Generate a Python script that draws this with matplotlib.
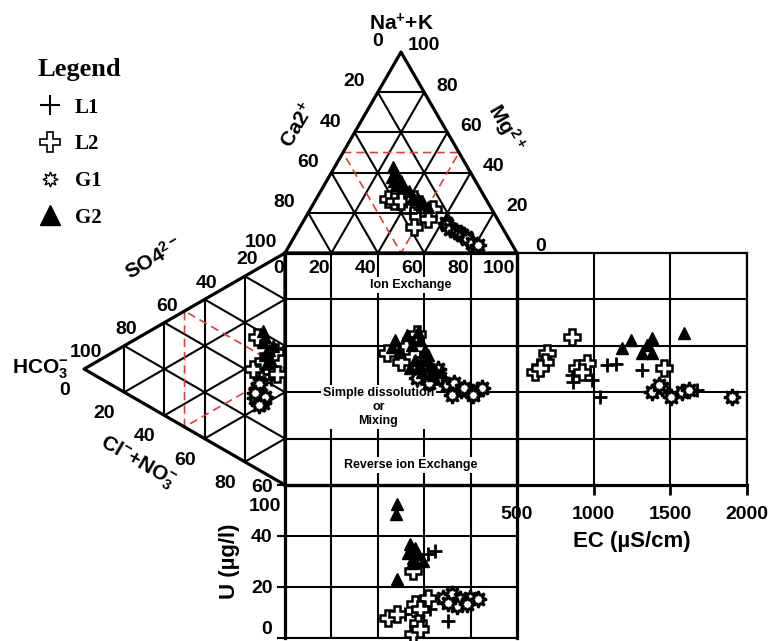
import matplotlib
matplotlib.use('Agg')
import matplotlib.pyplot as plt
from matplotlib.lines import Line2D
import numpy as np

plt.rcParams['font.family'] = 'Liberation Sans'
plt.rcParams['font.weight'] = 'bold'
plt.rcParams['axes.labelweight'] = 'bold'
plt.rcParams['mathtext.fontset'] = 'custom'
plt.rcParams['mathtext.rm'] = 'Liberation Sans:bold'
plt.rcParams['mathtext.it'] = 'Liberation Sans:bold'
plt.rcParams['mathtext.bf'] = 'Liberation Sans:bold'
plt.rcParams['mathtext.default'] = 'bf'

groups = ['L1', 'L2', 'G1', 'G2']

# cation triangle, % Na+K and % Mg (Ca is the rest)
cat_nak = {
    'L1': [26, 22, 18, 20, 24],
    'L2': [27, 26, 26, 27, 22, 13, 17],
    'G1': [15, 14, 12, 11, 10, 9, 8, 7, 5, 4],
    'G2': [43, 40, 38, 36, 36, 34, 33, 31, 28, 27, 25, 23],
}
cat_mg = {
    'L1': [39, 47, 53, 44, 45],
    'L2': [31, 34, 37, 42, 53, 49, 53],
    'G1': [62, 63, 65, 68, 70, 72, 74, 75, 78, 81],
    'G2': [25, 28, 27, 29, 32, 31, 35, 38, 41, 44, 47, 50],
}

# anion triangle, % HCO3 and % SO4 (Cl+NO3 is the rest)
an_hco3 = {
    'L1': [11, 8, 7, 13],
    'L2': [14, 16, 4, 11, 5],
    'G1': [14, 12, 15, 11, 13, 10, 15, 13],
    'G2': [11, 10, 11, 8, 10, 7, 9, 6],
}
an_so4 = {
    'L1': [46, 44, 42, 40],
    'L2': [57, 42, 46, 48, 55],
    'G1': [35, 33, 30, 30, 37, 33, 32, 28],
    'G2': [61, 59, 56, 54, 51, 50, 48, 57],
}

# central square
sq_x = {
    'L1': [45, 49, 58, 55, 63],
    'L2': [44, 50, 57, 52, 62],
    'G1': [60, 66, 67, 62, 57, 70, 73, 76, 80, 83, 85, 72, 77, 81],
    'G2': [47.4, 52.6, 57.3, 46.1, 49.6, 58.2, 54.7, 60.3, 56.0, 62.5, 59.1, 64.7, 53.9,
           60.3, 63.8, 57.3, 61.6, 67.2],
}
sq_y = {
    'L1': [57, 52, 55, 62, 46],
    'L2': [57, 53, 65, 60, 45],
    'G1': [47, 50, 46, 44, 46, 43, 44, 41, 40, 41, 42, 39, 42, 39],
    'G2': [62.5, 64.7, 65.9, 59.5, 57.3, 62.5, 60.3, 58.2, 53.9, 51.7, 48.7, 49.6, 50.4,
           53.9, 47.4, 50.4, 56.0, 48.7],
}

# EC panel
ec = {
    'L1': [857, 863, 987, 1039, 1084, 1149, 1318, 1675],
    'L2': [857, 695, 682, 617, 649, 889, 954, 922, 1461],
    'G1': [1383, 1448, 1506, 1577, 1623, 1428, 1902],
    'G2': [1188, 1246, 1318, 1383, 1383, 1350, 1590],
}
ec_y = {
    'L1': [47.4, 44.4, 45.3, 37.9, 51.7, 52.2, 49.6, 40.9],
    'L2': [63.8, 56.9, 53.0, 48.7, 50.4, 50.4, 52.6, 48.7, 50.4],
    'G1': [40.1, 41.8, 37.9, 40.1, 40.9, 43.1, 37.9],
    'G2': [59.1, 62.5, 56.9, 56.9, 63.4, 60.3, 65.5],
}

# uranium panel
u_x = {
    'L1': [64.7, 61.6, 70.3, 62.5, 57.3, 51.7],
    'L2': [55.2, 44.4, 48.3, 56.0, 61.6, 58.2, 57.3, 55.2, 58.2],
    'G1': [68.1, 72.0, 75.4, 79.7, 83.2, 74.1, 78.4, 70.3],
    'G2': [48.3, 47.8, 53.9, 53.0, 55.2, 57.3, 59.5, 54.7, 56.0, 48.3],
}
u_val = {
    'L1': [34.1, 32.9, 6.7, 11.4, 8.6, 9.4],
    'L2': [26.3, 7.8, 9.4, 13.3, 15.7, 11.4, 5.9, 1.6, 3.5],
    'G1': [15.7, 17.3, 15.3, 15.7, 15.3, 12.5, 13.3, 13.7],
    'G2': [52.5, 48.6, 36.9, 33.3, 31.4, 32.9, 30.2, 29.4, 35.3, 23.1],
}

styles = {
    'L1': dict(marker='+', ms=10, mew=2.0, color='k', ls='none'),
    'L2': dict(marker='P', ms=11, mfc='white', mec='k', mew=1.8, ls='none'),
    'G1': dict(marker=(8, 1, 0), ms=12, mfc='white', mec='k', mew=1.9, ls='none'),
    'G2': dict(marker='^', ms=9, color='k', ls='none'),
}
legend_ms = {'L1': 14, 'L2': 14, 'G1': 11, 'G2': 15}
legend_mew = {'L1': 1.5, 'L2': 1.2, 'G1': 1.0, 'G2': 1.0}

S3 = np.sqrt(3) / 2
LW_OUT, LW_IN = 2.3, 1.5
RED = '#d8413c'


def cation_xy(nak, mg):
    nak = np.asarray(nak, float)
    mg = np.asarray(mg, float)
    return mg + 0.5 * nak, 100 + S3 * nak


def anion_xy(hco3, so4):
    hco3 = np.asarray(hco3, float)
    so4 = np.asarray(so4, float)
    return -S3 * hco3, 0.5 * hco3 + so4


W, H = 770, 641
PX = 2.32          # pixels per percent of the square
OX, OY = 285, 485  # lower-left corner of the square


def fig_frac(u, v):
    return (OX + u * PX) / W, 1 - (OY - v * PX) / H


fig = plt.figure(figsize=(W / 100, H / 100), dpi=100)
ax = fig.add_axes([0, 0, 1, 1])
ax.set_xlim(-OX / PX, (W - OX) / PX)
ax.set_ylim(-(H - OY) / PX, OY / PX)
ax.axis('off')

# triangles
for p in (20, 40, 60, 80):
    for xs, ys in (cation_xy([p, p], [0, 100 - p]),
                   cation_xy([0, 100 - p], [p, p]),
                   cation_xy([0, 100 - p], [100 - p, 0]),
                   anion_xy([p, p], [0, 100 - p]),
                   anion_xy([0, 100 - p], [p, p]),
                   anion_xy([0, 100 - p], [100 - p, 0])):
        ax.plot(xs, ys, color='k', lw=LW_IN, zorder=1)
ax.plot(*cation_xy([0, 0, 100, 0], [0, 100, 0, 0]), color='k', lw=LW_OUT, zorder=3)
ax.plot(*anion_xy([0, 0, 100, 0], [0, 100, 0, 0]), color='k', lw=LW_OUT, zorder=3)
ax.plot(*cation_xy([50, 50, 0, 50], [0, 50, 50, 0]), color=RED, lw=1.2, ls=(0, (5, 3)), zorder=2)
ax.plot(*anion_xy([50, 50, 0, 50], [0, 50, 50, 0]), color=RED, lw=1.2, ls=(0, (5, 3)), zorder=2)

# square
for p in (20, 40, 60, 80):
    ax.plot([p, p], [0, 100], color='k', lw=LW_IN, zorder=1)
    ax.plot([0, 100], [p, p], color='k', lw=LW_IN, zorder=1)
ax.plot([0, 100, 100, 0, 0], [0, 0, 100, 100, 0], color='k', lw=LW_OUT, zorder=3)

# scale numbers
fs = 14
for p in range(0, 101, 20):
    x, y = cation_xy(p, 0)
    ax.text(x - 10.2, y + 4.5, str(100 - p), ha='center', va='center', fontsize=fs)
    x, y = cation_xy(p, 100 - p)
    ax.text(x + 10, y + 2.7, str(p), ha='center', va='center', fontsize=fs)
    x, y = anion_xy(p, 0)
    ax.text(x - 8.6, y - 9.3, str(100 - p), ha='center', va='center', fontsize=fs)
    if p > 0:
        x, y = anion_xy(p, 100 - p)
        ax.text(x + 1, y + 7, str(p), ha='center', va='center', fontsize=fs)
    ax.text(p - 0.6, 93.2, str(p), ha='right', va='center', fontsize=fs)

ax.text(50, 198.8, r'Na$^{+}$+K', ha='center', va='center', fontsize=15)
ax.text(5.6, 155.2, r'Ca2$^{+}$', ha='center', va='center', fontsize=15, rotation=60)
ax.text(95.3, 153.9, r'Mg$^{2+}$', ha='center', va='center', fontsize=15, rotation=-60)
ax.text(-56.5, 97.8, r'SO4$^{2-}$', ha='center', va='center', fontsize=15, rotation=30)
ax.text(-105.5, 50.0, r'HCO$_{3}^{-}$', ha='center', va='center', fontsize=15)
ax.text(-63.5, 9.9, r'Cl$^{-}$+NO$_{3}^{-}$', ha='center', va='center', fontsize=15, rotation=-30)

box = dict(boxstyle='square,pad=0.15', fc='white', ec='none')
ax.text(54.1, 86.2, 'Ion Exchange', ha='center', va='center', fontsize=9, bbox=box, zorder=2)
ax.text(40.3, 33.6, 'Simple dissolution\nor\nMixing', ha='center', va='center', fontsize=9,
        linespacing=1.25, bbox=box, zorder=2)
ax.text(54.1, 8.6, 'Reverse ion Exchange', ha='center', va='center', fontsize=9, bbox=box, zorder=2)

# EC panel
l, b = fig_frac(100, 0)
r, t = fig_frac(199.1, 100)
ax_ec = fig.add_axes([l, b, r - l, t - b], facecolor='none')
ax_ec.set_xlim(500, 2000)
ax_ec.set_ylim(0, 100)
ax_ec.set_xticks([500, 1000, 1500, 2000])
ax_ec.set_yticks([20, 40, 60, 80])
ax_ec.grid(True, color='k', lw=LW_IN)
ax_ec.set_axisbelow(True)
ax_ec.tick_params(axis='y', length=0, labelleft=False)
ax_ec.tick_params(axis='x', direction='out', length=7, width=2, labelsize=fs, pad=8)
for side, lw in (('top', 1.6), ('right', 1.6), ('bottom', LW_OUT), ('left', LW_OUT)):
    ax_ec.spines[side].set_linewidth(lw)
ax_ec.set_xlabel('EC (µS/cm)', fontsize=16, labelpad=6)

# U panel
l, b = fig_frac(0, -65.9)
r, t = fig_frac(100, 0)
ax_u = fig.add_axes([l, b, r - l, t - b], facecolor='none')
ax_u.set_xlim(0, 100)
ax_u.set_ylim(0, 60)
ax_u.set_xticks([20, 40, 60, 80])
ax_u.set_yticks([0, 20, 40, 60])
ax_u.grid(True, color='k', lw=LW_IN)
ax_u.set_axisbelow(True)
ax_u.tick_params(axis='x', length=0, labelbottom=False)
ax_u.tick_params(axis='y', direction='out', length=6, width=1.5, labelsize=fs, pad=3)
ax_u.get_yticklabels()[0].set_va('bottom')
for side, lw in (('top', LW_OUT), ('right', LW_OUT), ('bottom', LW_IN), ('left', LW_OUT)):
    ax_u.spines[side].set_linewidth(lw)
ax_u.set_ylabel('U (µg/l)', fontsize=16, labelpad=8)

# samples
for g in groups:
    ax.plot(*cation_xy(cat_nak[g], cat_mg[g]), zorder=4, **styles[g])
    ax.plot(*anion_xy(an_hco3[g], an_so4[g]), zorder=4, **styles[g])
    ax.plot(sq_x[g], sq_y[g], zorder=4, **styles[g])
    ax_ec.plot(ec[g], ec_y[g], zorder=4, clip_on=False, **styles[g])
    ax_u.plot(u_x[g], u_val[g], zorder=4, clip_on=False, **styles[g])

handles = [Line2D([], [], **{**styles[g], 'ms': legend_ms[g], 'mew': legend_mew[g]})
           for g in groups]
ax.legend(handles, groups, title='Legend', loc='upper left',
          bbox_to_anchor=(37 / W, 1 - 58 / H), bbox_transform=fig.transFigure,
          frameon=False, alignment='left', borderpad=0, borderaxespad=0,
          handlelength=1.2, handletextpad=0.6, labelspacing=0.8,
          prop=dict(family='Liberation Serif', weight='bold', size=15),
          title_fontproperties=dict(family='Liberation Serif', weight='bold', size=19))

fig.savefig('out.png', dpi=100)
